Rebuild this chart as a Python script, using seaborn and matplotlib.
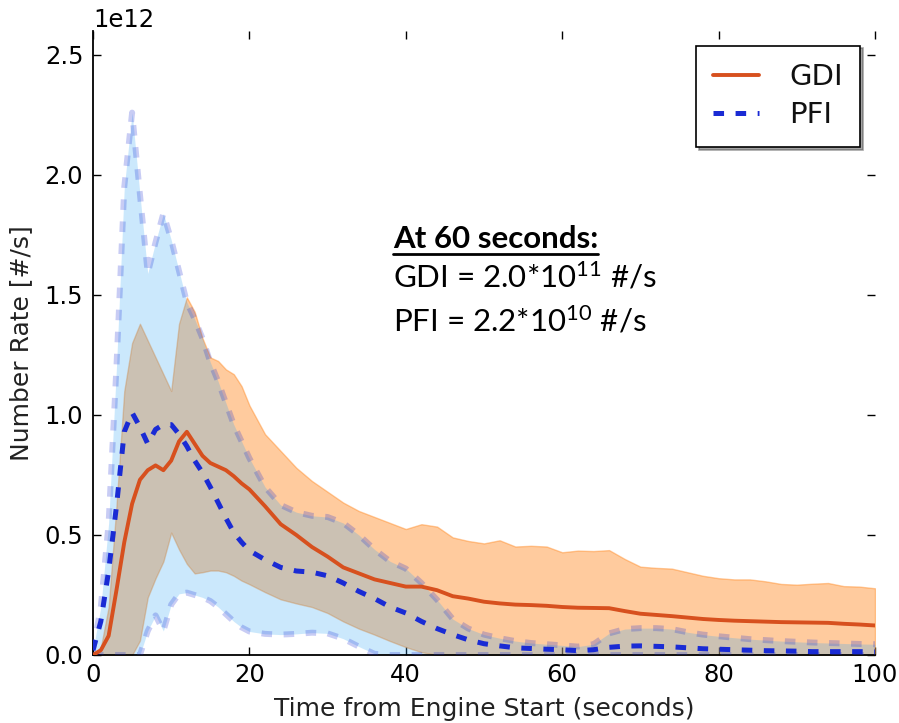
import numpy as np
import pandas as pd
import matplotlib
matplotlib.use("Agg")
import matplotlib.pyplot as plt
import seaborn as sns
from matplotlib.lines import Line2D

# Time axis (seconds from engine start)
time_s = list(range(0, 21)) + list(range(22, 101, 2))

# Particle number rates, in units of 1e12 #/s
rate_unit = 1e12

gdi_mean = [0.0, 0.02, 0.08, 0.27, 0.47, 0.63, 0.73, 0.77, 0.79, 0.77, 0.81,
            0.89, 0.93, 0.88, 0.83, 0.80, 0.785, 0.77, 0.745, 0.715, 0.69,
            0.62, 0.545, 0.50, 0.45, 0.41, 0.365, 0.34, 0.315, 0.30, 0.285,
            0.285, 0.27, 0.245, 0.235, 0.222, 0.215, 0.21, 0.208, 0.205, 0.20,
            0.197, 0.196, 0.195, 0.183, 0.172, 0.167, 0.162, 0.156, 0.15, 0.146,
            0.143, 0.141, 0.139, 0.137, 0.136, 0.135, 0.134, 0.13, 0.127, 0.123]
gdi_upper = [0.0, 0.03, 0.2, 0.62, 1.1, 1.3, 1.38, 1.31, 1.24, 1.17, 1.10,
             1.38, 1.49, 1.43, 1.32, 1.24, 1.225, 1.19, 1.17, 1.12, 1.04,
             0.92, 0.85, 0.78, 0.725, 0.68, 0.635, 0.60, 0.575, 0.55, 0.525,
             0.545, 0.535, 0.49, 0.475, 0.465, 0.478, 0.452, 0.455, 0.452, 0.428,
             0.435, 0.433, 0.437, 0.40, 0.368, 0.363, 0.36, 0.345, 0.33, 0.32,
             0.315, 0.315, 0.307, 0.296, 0.293, 0.297, 0.30, 0.287, 0.285, 0.278]
gdi_lower = [0.0, 0.0, 0.0, 0.0, 0.0, 0.0, 0.06, 0.24, 0.32, 0.39, 0.51,
             0.44, 0.38, 0.34, 0.345, 0.352, 0.352, 0.345, 0.33, 0.31, 0.295,
             0.262, 0.232, 0.215, 0.20, 0.175, 0.14, 0.11, 0.085, 0.058, 0.033,
             0.012, 0.0, 0.0, 0.0, 0.0, 0.0, 0.0, 0.0, 0.0, 0.0,
             0.0, 0.0, 0.0, 0.0, 0.0, 0.0, 0.0, 0.0, 0.0, 0.0,
             0.0, 0.0, 0.0, 0.0, 0.0, 0.0, 0.0, 0.0, 0.0, 0.0]

pfi_mean = [0.02, 0.14, 0.35, 0.62, 0.93, 1.01, 0.95, 0.88, 0.94, 0.96, 0.96,
            0.92, 0.87, 0.81, 0.76, 0.70, 0.635, 0.57, 0.51, 0.47, 0.435,
            0.397, 0.365, 0.35, 0.345, 0.33, 0.30, 0.265, 0.235, 0.20, 0.175,
            0.14, 0.11, 0.085, 0.063, 0.047, 0.038, 0.03, 0.027, 0.024, 0.022,
            0.018, 0.022, 0.032, 0.037, 0.038, 0.036, 0.034, 0.03, 0.026, 0.024,
            0.022, 0.02, 0.018, 0.017, 0.016, 0.014, 0.014, 0.014, 0.014, 0.013]
pfi_upper = [0.02, 0.2, 0.55, 1.2, 1.95, 2.26, 1.92, 1.59, 1.72, 1.84, 1.73,
             1.60, 1.47, 1.40, 1.32, 1.22, 1.14, 1.05, 0.96, 0.89, 0.82,
             0.70, 0.625, 0.595, 0.58, 0.575, 0.55, 0.50, 0.44, 0.39, 0.36,
             0.30, 0.23, 0.15, 0.11, 0.085, 0.07, 0.058, 0.05, 0.045, 0.04,
             0.035, 0.045, 0.09, 0.108, 0.112, 0.112, 0.108, 0.095, 0.085, 0.078,
             0.072, 0.066, 0.062, 0.058, 0.055, 0.052, 0.05, 0.048, 0.046, 0.045]
pfi_lower = [0.0, 0.0, 0.0, 0.0, 0.0, 0.0, 0.0, 0.10, 0.165, 0.10, 0.21,
             0.255, 0.26, 0.25, 0.24, 0.225, 0.20, 0.17, 0.14, 0.115, 0.098,
             0.088, 0.085, 0.088, 0.093, 0.09, 0.068, 0.035, 0.005, 0.0, 0.0,
             0.0, 0.0, 0.0, 0.0, 0.0, 0.0, 0.0, 0.0, 0.0, 0.0,
             0.0, 0.0, 0.0, 0.0, 0.0, 0.0, 0.0, 0.0, 0.0, 0.0,
             0.0, 0.0, 0.0, 0.0, 0.0, 0.0, 0.0, 0.0, 0.0, 0.0]

x_ticks = [0, 20, 40, 60, 80, 100]
y_ticks = [0.0, 0.5, 1.0, 1.5, 2.0, 2.5]

GDI_COLOR = "#d7501e"
GDI_BAND = "#ff7f0e"
PFI_COLOR = "#1a2bd4"
PFI_BAND = (0.20, 0.65, 0.96)

df = pd.DataFrame({
    "t": time_s,
    "gdi": np.array(gdi_mean) * rate_unit,
    "gdi_hi": np.array(gdi_upper) * rate_unit,
    "gdi_lo": np.array(gdi_lower) * rate_unit,
    "pfi": np.array(pfi_mean) * rate_unit,
    "pfi_hi": np.array(pfi_upper) * rate_unit,
    "pfi_lo": np.array(pfi_lower) * rate_unit,
})

sns.set_theme(style="ticks")
plt.rcParams.update({
    "font.family": ["DejaVu Sans"],
    "xtick.direction": "in",
    "ytick.direction": "in",
    "xtick.top": True,
    "ytick.right": True,
    "xtick.major.size": 5.5,
    "ytick.major.size": 5.5,
    "xtick.major.width": 1.0,
    "ytick.major.width": 1.0,
    "xtick.major.pad": 6,
    "ytick.major.pad": 7,
    "xtick.labelsize": 17.5,
    "ytick.labelsize": 17.5,
    "axes.labelsize": 18,
    "axes.labelcolor": "#222222",
    "axes.linewidth": 1.3,
    "axes.edgecolor": "black",
    "xtick.color": "black",
    "ytick.color": "black",
    "text.color": "#111111",
    "mathtext.fontset": "custom",
    "mathtext.rm": "Lato",
    "mathtext.it": "Lato:italic",
    "mathtext.bf": "Lato:bold",
})

fig = plt.figure(figsize=(8.99, 7.23), dpi=100)
W, H = 899, 723
ax = fig.add_axes([93 / W, 1 - 655 / H, (875 - 93) / W, (655 - 31) / H])

# Spread bands
ax.fill_between(df["t"], df["gdi_lo"], df["gdi_hi"], color=GDI_BAND, alpha=0.4,
                linewidth=1.0, zorder=1)
ax.fill_between(df["t"], df["pfi_lo"], df["pfi_hi"], facecolor=PFI_BAND, alpha=0.25,
                linewidth=0, zorder=2)

# PFI band edges
band_lw = 4.3
for col in ["pfi_hi", "pfi_lo"]:
    sns.lineplot(data=df, x="t", y=col, ax=ax, color=PFI_COLOR, alpha=0.24,
                 linewidth=band_lw, linestyle=(0, (7.6 / band_lw, 8.3 / band_lw)),
                 zorder=3)

# Mean traces
sns.lineplot(data=df, x="t", y="gdi", ax=ax, color=GDI_COLOR, linewidth=2.8, zorder=5)
mean_lw = 3.6
sns.lineplot(data=df, x="t", y="pfi", ax=ax, color=PFI_COLOR, linewidth=mean_lw,
             linestyle=(0, (7.6 / mean_lw, 8.3 / mean_lw)), zorder=6)

ax.set_xlim(0, 100)
ax.set_ylim(0, 2.6e12)
ax.set_xticks(x_ticks)
ax.set_yticks([v * rate_unit for v in y_ticks])
ax.ticklabel_format(axis="y", style="sci", scilimits=(0, 0), useMathText=False)
ax.yaxis.get_offset_text().set_fontsize(17.5)
ax.spines["top"].set_visible(False)
ax.spines["right"].set_visible(False)
ax.set_xlabel("Time from Engine Start (seconds)", labelpad=7)
ax.set_ylabel("Number Rate [#/s]", labelpad=8)

handles = [
    Line2D([], [], color=GDI_COLOR, linewidth=2.8),
    Line2D([], [], color=PFI_COLOR, linewidth=mean_lw,
           linestyle=(0, (7.6 / mean_lw, 8.3 / mean_lw))),
]
leg = ax.legend(handles, ["GDI", "PFI"], loc="upper right", fontsize=21,
                frameon=True, fancybox=False, shadow=True, framealpha=1,
                handlelength=1.55, handletextpad=1.05, borderpad=0.6,
                labelspacing=0.35, borderaxespad=0.5)
leg.get_frame().set_edgecolor("black")
leg.get_frame().set_linewidth(1.2)

# Annotation block
note_font = ["Lato", "DejaVu Sans"]
note_size = 22.5
x0 = 393 / W
title = fig.text(x0, 1 - 248 / H, "At 60 seconds:", fontsize=note_size, fontweight="bold",
                 family=note_font, color="black", va="baseline")
fig.text(x0, 1 - 288 / H, r"GDI = 2.0*10$^{11}$ #/s", fontsize=note_size,
         family=note_font, color="black", va="baseline")
fig.text(x0, 1 - 332 / H, r"PFI = 2.2*10$^{10}$ #/s", fontsize=note_size,
         family=note_font, color="black", va="baseline")

fig.canvas.draw()
bb = title.get_window_extent(fig.canvas.get_renderer())
uy = 1 - 254 / H
fig.add_artist(Line2D([bb.x0 / W, bb.x1 / W], [uy, uy], transform=fig.transFigure,
                      color="black", linewidth=2.0))

fig.savefig("out.png", dpi=100)
